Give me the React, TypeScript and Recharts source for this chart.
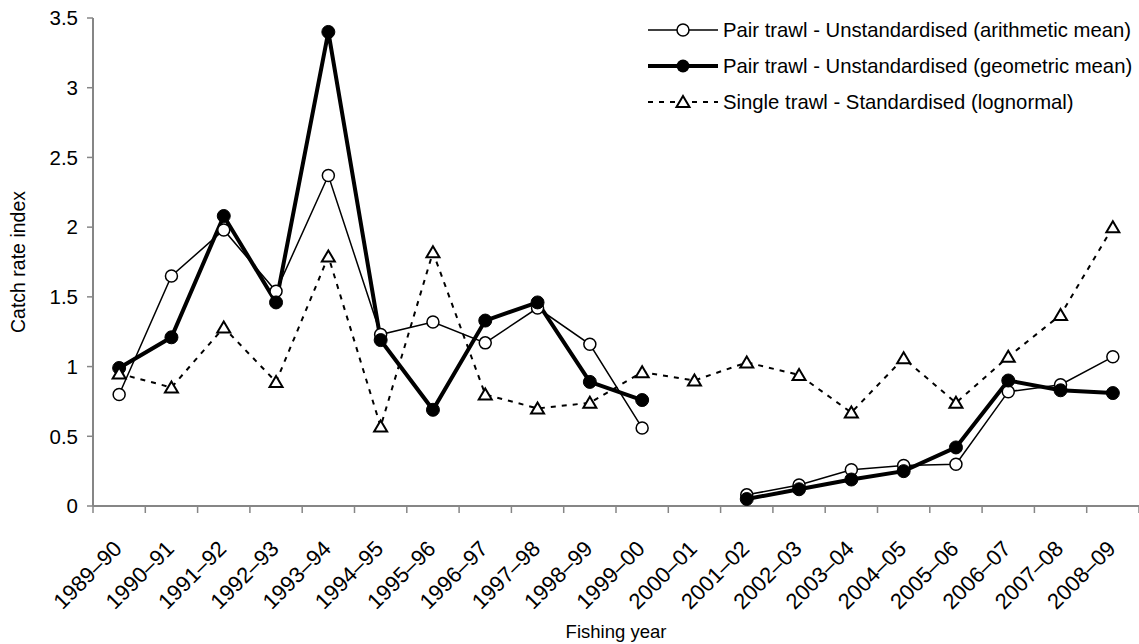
import * as React from "react";
import { Label, Legend, Line, LineChart, XAxis, YAxis } from "recharts";

// Catch rate indices by fishing year: pair trawl (arithmetic + geometric
// means, unstandardised) against the standardised single trawl series.
const years = [
  "1989–90", "1990–91", "1991–92", "1992–93", "1993–94",
  "1994–95", "1995–96", "1996–97", "1997–98", "1998–99",
  "1999–00", "2000–01", "2001–02", "2002–03", "2003–04",
  "2004–05", "2005–06", "2006–07", "2007–08", "2008–09",
];
const pairArithmetic = [
  0.8, 1.65, 1.98, 1.54, 2.37, 1.23, 1.32, 1.17, 1.42, 1.16,
  0.56, null, 0.08, 0.15, 0.26, 0.29, 0.3, 0.82, 0.87, 1.07,
];
const pairGeometric = [
  0.99, 1.21, 2.08, 1.46, 3.4, 1.19, 0.69, 1.33, 1.46, 0.89,
  0.76, null, 0.05, 0.12, 0.19, 0.25, 0.42, 0.9, 0.83, 0.81,
];
const singleLognormal = [
  0.95, 0.85, 1.28, 0.89, 1.79, 0.57, 1.82, 0.8, 0.7, 0.74,
  0.96, 0.9, 1.03, 0.94, 0.67, 1.06, 0.74, 1.07, 1.37, 2.0,
];
const yTicks = [0, 0.5, 1, 1.5, 2, 2.5, 3, 3.5];

// category i sits in the middle of slot [i, i+1]; tick marks fall on the slot edges
const data = years.map((label, i) => ({
  x: i + 0.5,
  label,
  arith: pairArithmetic[i],
  geo: pairGeometric[i],
  single: singleLognormal[i],
}));
const edgeTicks = years.map((_, i) => i).concat(years.length);
const midTicks = years.map((_, i) => i + 0.5);

const W = 1139;
const H = 644;
const TOP = 18;
const AXIS_H = 138;
const EDGE_H = 10;
const PLOT_BOTTOM = H - AXIS_H;
const FONT = '"Liberation Sans", Arial, sans-serif';
const AXIS = "#868686";

function Triangle({ cx, cy, size = 1 }: { cx?: number; cy?: number; size?: number }) {
  if (cx == null || cy == null) return null;
  const w = 6.5 * size;
  return (
    <path
      d={`M${cx},${cy - 6 * size} L${cx + w},${cy + 5 * size} L${cx - w},${cy + 5 * size} Z`}
      fill="#fff"
      stroke="#000"
      strokeWidth={2}
      strokeLinejoin="miter"
    />
  );
}

function YearTick(props: any) {
  const { x, payload } = props;
  const i = Math.round(payload.value - 0.5);
  const tx = x + 4;
  const ty = PLOT_BOTTOM + 44;
  return (
    <text
      x={tx}
      y={ty}
      textAnchor="end"
      transform={`rotate(-45 ${tx} ${ty})`}
      fontSize={22}
      fontFamily={FONT}
      fill="#000"
    >
      {years[i]}
    </text>
  );
}

const legendItems = [
  { text: "Pair trawl - Unstandardised (arithmetic mean)", kind: "open" },
  { text: "Pair trawl - Unstandardised (geometric mean)", kind: "filled" },
  { text: "Single trawl - Standardised (lognormal)", kind: "tri" },
];

function LegendKey({ kind }: { kind: string }) {
  return (
    <svg width={72} height={22} style={{ display: "block", flexShrink: 0 }}>
      {kind === "open" && (
        <>
          <line x1={0} y1={11} x2={70} y2={11} stroke="#000" strokeWidth={1.5} />
          <circle cx={35} cy={11} r={6} fill="#fff" stroke="#000" strokeWidth={1.5} />
        </>
      )}
      {kind === "filled" && (
        <>
          <line x1={0} y1={11} x2={70} y2={11} stroke="#000" strokeWidth={4} />
          <circle cx={35} cy={11} r={6.5} fill="#000" />
        </>
      )}
      {kind === "tri" && (
        <>
          <line x1={0} y1={11} x2={70} y2={11} stroke="#000" strokeWidth={2} strokeDasharray="5 6" />
          <Triangle cx={35} cy={11} />
        </>
      )}
    </svg>
  );
}

function ChartLegend() {
  return (
    <div style={{ fontFamily: FONT, fontSize: 20.3, color: "#000" }}>
      {legendItems.map((it) => (
        <div key={it.text} style={{ display: "flex", alignItems: "center", height: 36, gap: 3, whiteSpace: "nowrap" }}>
          <LegendKey kind={it.kind} />
          <span>{it.text}</span>
        </div>
      ))}
    </div>
  );
}

const noLabel = () => <g />;

export default function App() {
  return (
    <div style={{ position: "absolute", left: 0, top: 0, width: W, height: H, background: "#fff" }}>
      <LineChart width={W} height={H} data={data} margin={{ top: TOP, right: 0, left: 0, bottom: 0 }}>
        <XAxis
          xAxisId="edges"
          type="number"
          dataKey="x"
          domain={[0, years.length]}
          ticks={edgeTicks}
          interval={0}
          tick={noLabel}
          tickSize={7}
          height={EDGE_H}
          axisLine={{ stroke: AXIS, strokeWidth: 2 }}
          tickLine={{ stroke: AXIS, strokeWidth: 1.5 }}
        />
        <XAxis
          xAxisId="years"
          type="number"
          dataKey="x"
          domain={[0, years.length]}
          ticks={midTicks}
          interval={0}
          tick={<YearTick />}
          axisLine={false}
          tickLine={false}
          height={AXIS_H - EDGE_H}
        >
          <Label
            content={() => (
              <text x={616} y={638} textAnchor="middle" fontSize={18.5} fontFamily={FONT} fill="#000">
                Fishing year
              </text>
            )}
          />
        </XAxis>
        <YAxis
          type="number"
          domain={[0, 3.5]}
          ticks={yTicks}
          interval={0}
          width={93}
          tickSize={6}
          tickMargin={9}
          tick={{ fontSize: 20.5, fontFamily: FONT, fill: "#000" }}
          axisLine={{ stroke: AXIS, strokeWidth: 2 }}
          tickLine={{ stroke: AXIS, strokeWidth: 1.5 }}
        >
          <Label
            content={() => (
              <text
                x={18}
                y={262}
                textAnchor="middle"
                dominantBaseline="central"
                transform="rotate(-90 18 262)"
                fontSize={19.5}
                fontFamily={FONT}
                fill="#000"
              >
                Catch rate index
              </text>
            )}
          />
        </YAxis>
        <Legend
          layout="vertical"
          align="center"
          verticalAlign="middle"
          content={() => <ChartLegend />}
          wrapperStyle={{ left: 648, top: 12, width: 490 }}
        />
        <Line
          xAxisId="years"
          dataKey="arith"
          type="linear"
          stroke="#000"
          strokeWidth={1.5}
          dot={{ r: 6, fill: "#fff", stroke: "#000", strokeWidth: 1.5 }}
          activeDot={false}
          isAnimationActive={false}
        />
        <Line
          xAxisId="years"
          dataKey="geo"
          type="linear"
          stroke="#000"
          strokeWidth={4}
          dot={{ r: 6.5, fill: "#000", stroke: "#000", strokeWidth: 1 }}
          activeDot={false}
          isAnimationActive={false}
        />
        <Line
          xAxisId="years"
          dataKey="single"
          type="linear"
          stroke="#000"
          strokeWidth={2}
          strokeDasharray="5 6"
          dot={(p: any) => <Triangle key={`t-${p.index}`} cx={p.cx} cy={p.cy} />}
          activeDot={false}
          isAnimationActive={false}
        />
      </LineChart>
    </div>
  );
}
